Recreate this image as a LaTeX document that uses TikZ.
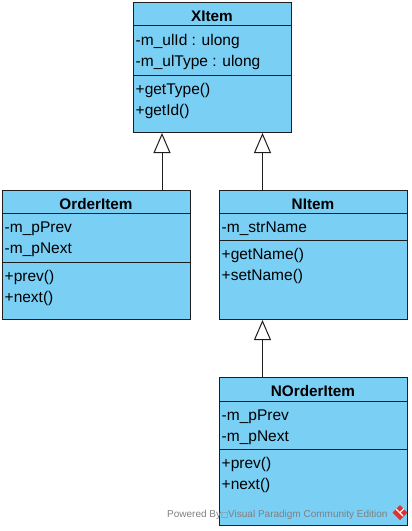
\documentclass[tikz,border=0pt]{standalone}
\usepackage{fontspec}
\setmainfont{Liberation Sans}
\newfontfamily\symfont{DejaVu Sans}
\usetikzlibrary{arrows.meta}
\definecolor{classfill}{RGB}{122,207,245}
\definecolor{classline}{RGB}{30,30,30}
\definecolor{wmgray}{RGB}{128,128,128}
\definecolor{logored}{RGB}{220,50,50}
\begin{document}
\begin{tikzpicture}[x=1pt,y=-1pt,
  classbox/.style={draw=classline, fill=classfill, line width=1pt, rectangle, inner sep=0pt, anchor=north west},
  sepline/.style={draw=classline, line width=1pt},
  titletext/.style={anchor=base, inner sep=0pt, font=\fontsize{15.3}{18}\selectfont\bfseries},
  membertext/.style={anchor=base west, inner sep=0pt, font=\fontsize{15.5}{18}\selectfont},
  inherit/.style={draw=classline, line width=1pt, -{Triangle[length=20pt,width=17pt,fill=white]}},
  wmtext/.style={anchor=base west, inner sep=0pt, text=wmgray, font=\fontsize{10}{12}\selectfont}
]
\useasboundingbox (0,0) rectangle (412,531);

% XItem
\node[classbox, minimum width=158pt, minimum height=130pt] (xi) at (133,2) {};
\draw[sepline] (133,25) -- (291,25);
\draw[sepline] (133,75) -- (291,75);
\node[titletext] (xit) at (212,21.5) {XItem};
\node[membertext] (xia1) at (135.5,45.5) {-m\_ulId : ulong};
\node[membertext] (xia2) at (135.5,66.5) {-m\_ulType : ulong};
\node[membertext] (xim1) at (135.5,94) {+getType()};
\node[membertext] (xim2) at (135.5,115) {+getId()};

% OrderItem
\node[classbox, minimum width=188pt, minimum height=129pt] (oi) at (2,190) {};
\draw[sepline] (2,213) -- (190,213);
\draw[sepline] (2,262) -- (190,262);
\node[titletext] (oit) at (96,209) {OrderItem};
\node[membertext] (oia1) at (4.5,232) {-m\_pPrev};
\node[membertext] (oia2) at (4.5,253) {-m\_pNext};
\node[membertext] (oim1) at (4.5,281.5) {+prev()};
\node[membertext] (oim2) at (4.5,302.5) {+next()};

% NItem
\node[classbox, minimum width=188pt, minimum height=129pt] (ni) at (219,190) {};
\draw[sepline] (219,213) -- (407,213);
\draw[sepline] (219,240) -- (407,240);
\node[titletext] (nit) at (313,209) {NItem};
\node[membertext] (nia1) at (221.5,232) {-m\_strName};
\node[membertext] (nim1) at (221.5,259.5) {+getName()};
\node[membertext] (nim2) at (221.5,280.5) {+setName()};

% NOrderItem
\node[classbox, minimum width=188pt, minimum height=148pt] (noi) at (219,377) {};
\draw[sepline] (219,401) -- (407,401);
\draw[sepline] (219,449) -- (407,449);
\node[titletext] (noit) at (313,396) {NOrderItem};
\node[membertext] (noia1) at (221.5,420) {-m\_pPrev};
\node[membertext] (noia2) at (221.5,441) {-m\_pNext};
\node[membertext] (noim1) at (221.5,468.5) {+prev()};
\node[membertext] (noim2) at (221.5,489.5) {+next()};

% Generalizations
\coordinate (a1) at ([xshift=65.5pt]oi.north);
\draw[inherit] (a1) -- (a1 |- xi.south);
\coordinate (a2) at ([xshift=-51pt]ni.north);
\draw[inherit] (a2) -- (a2 |- xi.south);
\coordinate (a3) at ([xshift=-51pt]noi.north);
\draw[inherit] (a3) -- (a3 |- ni.south);

% Watermark
\node[wmtext] (wm) at (167,517.5) {Powered By{\symfont\fontsize{7.5}{9}\selectfont □}Visual Paradigm Community Edition};
\fill[logored] (400,505) -- (407.5,512.5) -- (400,520) -- (392.5,512.5) -- cycle;
\draw[white, line width=1.2pt] (396,509) -- (403,516);
\draw[white, line width=1.2pt] (400,512.5) -- (404,508.5);
\end{tikzpicture}
\end{document}
